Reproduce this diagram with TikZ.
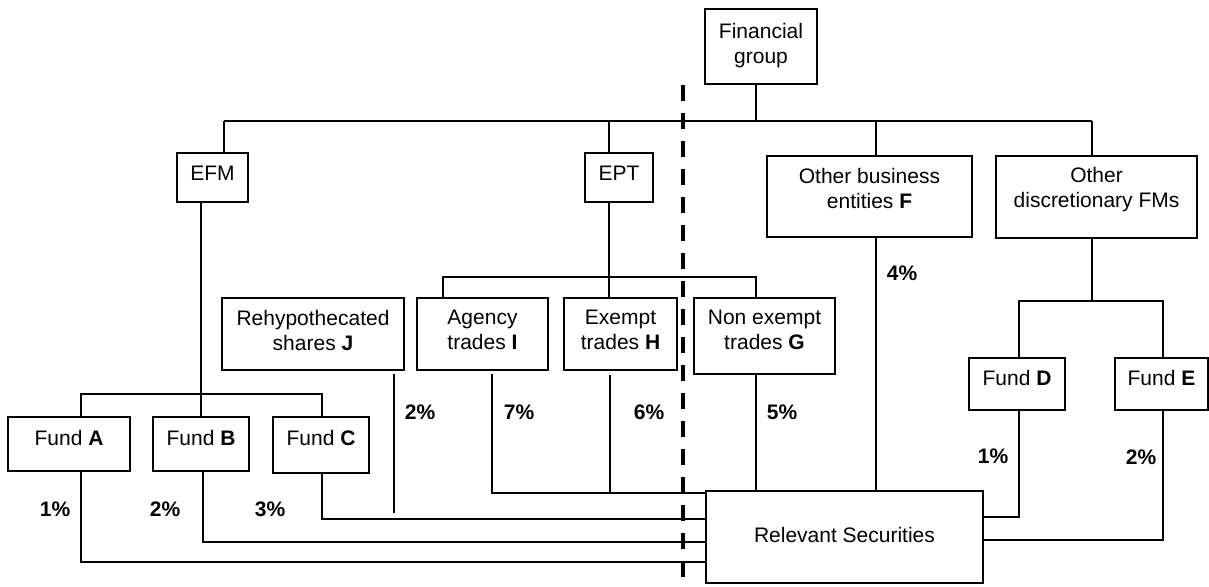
\documentclass[tikz,border=0pt]{standalone}
\usepackage{fontspec}
\setmainfont{Liberation Sans}
\tikzset{
  box/.style={draw, line width=1.8pt, inner sep=0pt},
  txt/.style={font=\fontsize{21}{25}\selectfont, align=center, inner sep=0pt},
  pct/.style={font=\fontsize{21}{25}\selectfont\bfseries, inner sep=0pt},
  link/.style={line width=1.5pt},
  divider/.style={line width=3.6pt, dash pattern=on 16pt off 12pt},
}
\begin{document}
\begin{tikzpicture}[x=1pt,y=-1pt]
\useasboundingbox (0,0) rectangle (1209,586);
% boxes
\node[box,minimum width=112pt,minimum height=75pt] (FG) at (761,46.5) {};
\node[txt] (FGt) at (761,45.5) {Financial\\group};
\node[box,minimum width=71pt,minimum height=49pt] (EFM) at (212.5,177.5) {};
\node[txt] (EFMt) at (212.5,173.5) {EFM};
\node[box,minimum width=68pt,minimum height=49pt] (EPT) at (619,177.5) {};
\node[txt] (EPTt) at (619,173) {EPT};
\node[box,minimum width=205pt,minimum height=81pt] (F) at (869.5,196.5) {};
\node[txt] (Ft) at (869.5,188) {Other business\\entities \textbf{F}};
\node[box,minimum width=201pt,minimum height=82pt] (FMs) at (1096.5,197) {};
\node[txt] (FMst) at (1096.5,190) {Other\\discretionary FMs};
\node[box,minimum width=182pt,minimum height=72pt] (J) at (313,334) {};
\node[txt] (Jt) at (313,330) {Rehypothecated\\shares \textbf{J}};
\node[box,minimum width=131pt,minimum height=72pt] (I) at (482.5,334) {};
\node[txt] (It) at (482.5,330) {Agency\\trades \textbf{I}};
\node[box,minimum width=113pt,minimum height=72pt] (H) at (620.5,334) {};
\node[txt] (Ht) at (620.5,330) {Exempt\\trades \textbf{H}};
\node[box,minimum width=141pt,minimum height=76pt] (G) at (764.5,336) {};
\node[txt] (Gt) at (764.5,330) {Non exempt\\trades \textbf{G}};
\node[box,minimum width=122pt,minimum height=54pt] (A) at (69,444) {};
\node[txt] (At) at (69,438) {Fund \textbf{A}};
\node[box,minimum width=96pt,minimum height=54pt] (B) at (201,444) {};
\node[txt] (Bt) at (201,438) {Fund \textbf{B}};
\node[box,minimum width=96pt,minimum height=56pt] (C) at (321,445) {};
\node[txt] (Ct) at (321,438) {Fund \textbf{C}};
\node[box,minimum width=96pt,minimum height=52pt] (D) at (1017,384) {};
\node[txt] (Dt) at (1017,378) {Fund \textbf{D}};
\node[box,minimum width=93pt,minimum height=52pt] (E) at (1161.5,384) {};
\node[txt] (Et) at (1161.5,378) {Fund \textbf{E}};
\node[box,minimum width=277pt,minimum height=92pt] (RS) at (844.5,537) {};
\node[txt] (RSt) at (844.5,534.5) {Relevant Securities};
% coordinates
\coordinate (fgX) at (756,121);
\coordinate (busL) at (224,121);
\coordinate (busR) at (1092,121);
\coordinate (eptTop) at (609,121);
\coordinate (fTop) at (876,121);
\coordinate (fbL) at (81,394);
\coordinate (fbR) at (322,394);
\coordinate (aT) at (81,562);
\coordinate (bT) at (203,542);
\coordinate (cT) at (322,519);
\coordinate (jTop) at (394,374);
\coordinate (jBot) at (394,513);
\coordinate (iTop) at (492,374);
\coordinate (iT) at (492,493);
\coordinate (hTop) at (610,375);
\coordinate (gX) at (756,400);
\coordinate (tbL) at (443,277);
\coordinate (tbM) at (609,277);
\coordinate (tbR) at (756,277);
\coordinate (dbL) at (1019,301);
\coordinate (dbR) at (1163,301);
\coordinate (dT) at (1019,517);
\coordinate (eT) at (1163,540);
\coordinate (dashTop) at (683,85);
\coordinate (dashBot) at (683,577);
% connectors
\draw[link] (fgX |- FG.south) -- (fgX);
\draw[link] (busL) -- (busR);
\draw[link] (busL) -- (busL |- EFM.north);
\draw[link] (eptTop) -- (eptTop |- EPT.north);
\draw[link] (fTop) -- (fTop |- F.north);
\draw[link] (busR) -- (busR |- FMs.north);
\draw[link] (B.north |- EFM.south) -- (B.north);
\draw[link] (fbL |- A.north) -- (fbL) -- (fbR) -- (fbR |- C.north);
\draw[link] (aT |- A.south) -- (aT) -- (aT -| RS.west);
\draw[link] (bT |- B.south) -- (bT) -- (bT -| RS.west);
\draw[link] (cT |- C.south) -- (cT) -- (cT -| RS.west);
\draw[link] (jTop) -- (jBot);
\draw[link] (tbM |- EPT.south) -- (tbM |- H.north);
\draw[link] (tbL |- I.north) -- (tbL) -- (tbR) -- (tbR |- G.north);
\draw[link] (iTop) -- (iT) -- (iT -| RS.west);
\draw[link] (hTop) -- (hTop |- iT);
\draw[link] (gX |- G.south) -- (gX |- RS.north);
\draw[link] (fTop |- F.south) -- (fTop |- RS.north);
\draw[link] (busR |- FMs.south) -- (busR |- dbL);
\draw[link] (dbL |- D.north) -- (dbL) -- (dbR) -- (dbR |- E.north);
\draw[link] (dT |- D.south) -- (dT) -- (dT -| RS.east);
\draw[link] (eT |- E.south) -- (eT) -- (eT -| RS.east);
\draw[divider] (dashTop) -- (dashBot);
% percentages
\node[pct] (pA) at (55,509) {1\%};
\node[pct] (pB) at (165,509) {2\%};
\node[pct] (pC) at (270,509) {3\%};
\node[pct] (pJ) at (420,412) {2\%};
\node[pct] (pI) at (519,412) {7\%};
\node[pct] (pH) at (649,412) {6\%};
\node[pct] (pG) at (782,412) {5\%};
\node[pct] (pF) at (902,273) {4\%};
\node[pct] (pD) at (993,456) {1\%};
\node[pct] (pE) at (1141,457) {2\%};
\end{tikzpicture}
\end{document}
